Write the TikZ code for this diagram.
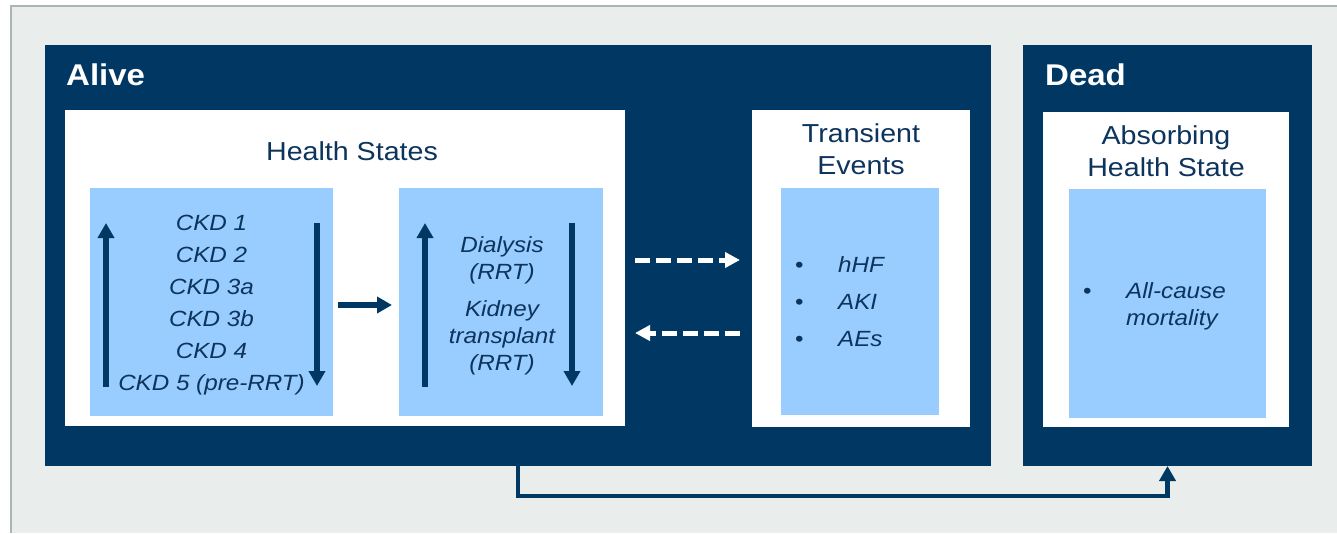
\documentclass[tikz,border=0pt]{standalone}
\usepackage{fontspec}
\setmainfont{Liberation Sans}[FakeStretch=1.1]
\usetikzlibrary{arrows.meta,calc}
\definecolor{navy}{RGB}{0,55,99}
\definecolor{ltblue}{RGB}{153,204,255}
\definecolor{bggray}{RGB}{233,237,236}
\definecolor{bgline}{RGB}{168,184,176}
\definecolor{txt}{RGB}{12,52,92}
\begin{document}
\begin{tikzpicture}[x=1pt,y=-1pt,
  box/.style={anchor=north west, inner sep=0pt, outer sep=0pt},
  navybox/.style={box, fill=navy},
  whitebox/.style={box, fill=white},
  bluebox/.style={box, fill=ltblue},
  heading/.style={white, font=\fontsize{30}{36}\selectfont\bfseries, inner sep=0pt},
  title/.style={txt, font=\fontsize{26}{32}\selectfont, inner sep=0pt, align=center},
  itemtxt/.style={txt, inner sep=0pt},
  thickarrow/.style={navy, line width=5.3pt, -{Triangle[width=16pt,length=15pt]}},
  dasharrow/.style={white, line width=5pt, dash pattern=on 15pt off 6pt, -{Triangle[width=15pt,length=15pt]}},
  conn/.style={navy, line width=4.5pt, line join=miter, -{Triangle[width=16pt,length=15pt]}}]
\useasboundingbox (0,0) rectangle (1337,533);
% background
\fill[white] (0,0) rectangle (1337,533);
\fill[bggray] (11,6) rectangle (1337,533);
\draw[bgline, line width=1.5pt] (11,533) -- (11,6) -- (1337,6);
% outer boxes
\node[navybox, minimum width=946pt, minimum height=421pt] (alive) at (45,45) {};
\node[navybox, minimum width=289pt, minimum height=421pt] (dead) at (1023,45) {};
\node[heading, anchor=base west] (alivet) at (66,85) {Alive};
\node[heading, anchor=base west] (deadt) at (1045,85) {Dead};
% white boxes
\node[whitebox, minimum width=560pt, minimum height=316pt] (hs) at (65,110) {};
\node[whitebox, minimum width=218pt, minimum height=317pt] (te) at (752,110) {};
\node[whitebox, minimum width=246pt, minimum height=315pt] (ab) at (1043,112) {};
% blue boxes
\node[bluebox, minimum width=243pt, minimum height=228pt] (b1) at (90,188) {};
\node[bluebox, minimum width=204pt, minimum height=228pt] (b2) at (399,188) {};
\node[bluebox, minimum width=158pt, minimum height=227pt] (b3) at (781,188) {};
\node[bluebox, minimum width=197pt, minimum height=229pt] (b4) at (1069,189) {};
% titles
\node[title, anchor=base] (hst) at (352,160) {Health States};
\node[title] (tet) at (861,149.5) {Transient\\Events};
\node[title] (abt) at (1166,151.5) {Absorbing\\Health State};
% box texts
\node[itemtxt, align=center, font=\fontsize{22}{32}\selectfont\itshape] (ckd) at ($(b1.center)+(0,3.5)$)
  {CKD 1\\CKD 2\\CKD 3a\\CKD 3b\\CKD 4\\CKD 5 (pre-RRT)};
\node[itemtxt, align=center, font=\fontsize{22}{27}\selectfont\itshape] (rrt) at ($(b2.center)+(1,3.5)$)
  {Dialysis\\(RRT)\\[10pt]Kidney\\transplant\\(RRT)};
\node[itemtxt, align=left, anchor=west, font=\fontsize{22}{37}\selectfont] (evt) at (795,302)
  {\makebox[43pt][l]{•}\textit{hHF}\\\makebox[43pt][l]{•}\textit{AKI}\\\makebox[43pt][l]{•}\textit{AEs}};
\node[itemtxt, align=left, anchor=west, font=\fontsize{22}{27}\selectfont] (mort) at (1083,306.8)
  {\makebox[43pt][l]{•}\textit{All-cause}\\\hspace*{43pt}\textit{mortality}};
% arrows inside blue boxes
\draw[thickarrow] ($(b1.north west)+(16,199)$) -- ($(b1.north west)+(16,35)$);
\draw[thickarrow] ($(b1.north west)+(227,35)$) -- ($(b1.north west)+(227,198)$);
\draw[thickarrow] ($(b2.north west)+(26,199)$) -- ($(b2.north west)+(26,35)$);
\draw[thickarrow] ($(b2.north west)+(173,35)$) -- ($(b2.north west)+(173,198)$);
% arrow between blue boxes
\draw[thickarrow, shorten <=5pt, shorten >=7pt] ([yshift=-3pt]b1.east) -- ([yshift=-3pt]b2.west);
% dashed arrows
\draw[dasharrow] ($(hs.north east)+(10,150)$) -- ($(te.north west)+(-12,150)$);
\draw[dasharrow] ($(te.north west)+(-12,223)$) -- ($(hs.north east)+(10,223)$);
% alive -> dead
\draw[conn] ([xshift=473pt]alive.south west) -- ++(0,30) -| (dead.south);
\end{tikzpicture}
\end{document}
